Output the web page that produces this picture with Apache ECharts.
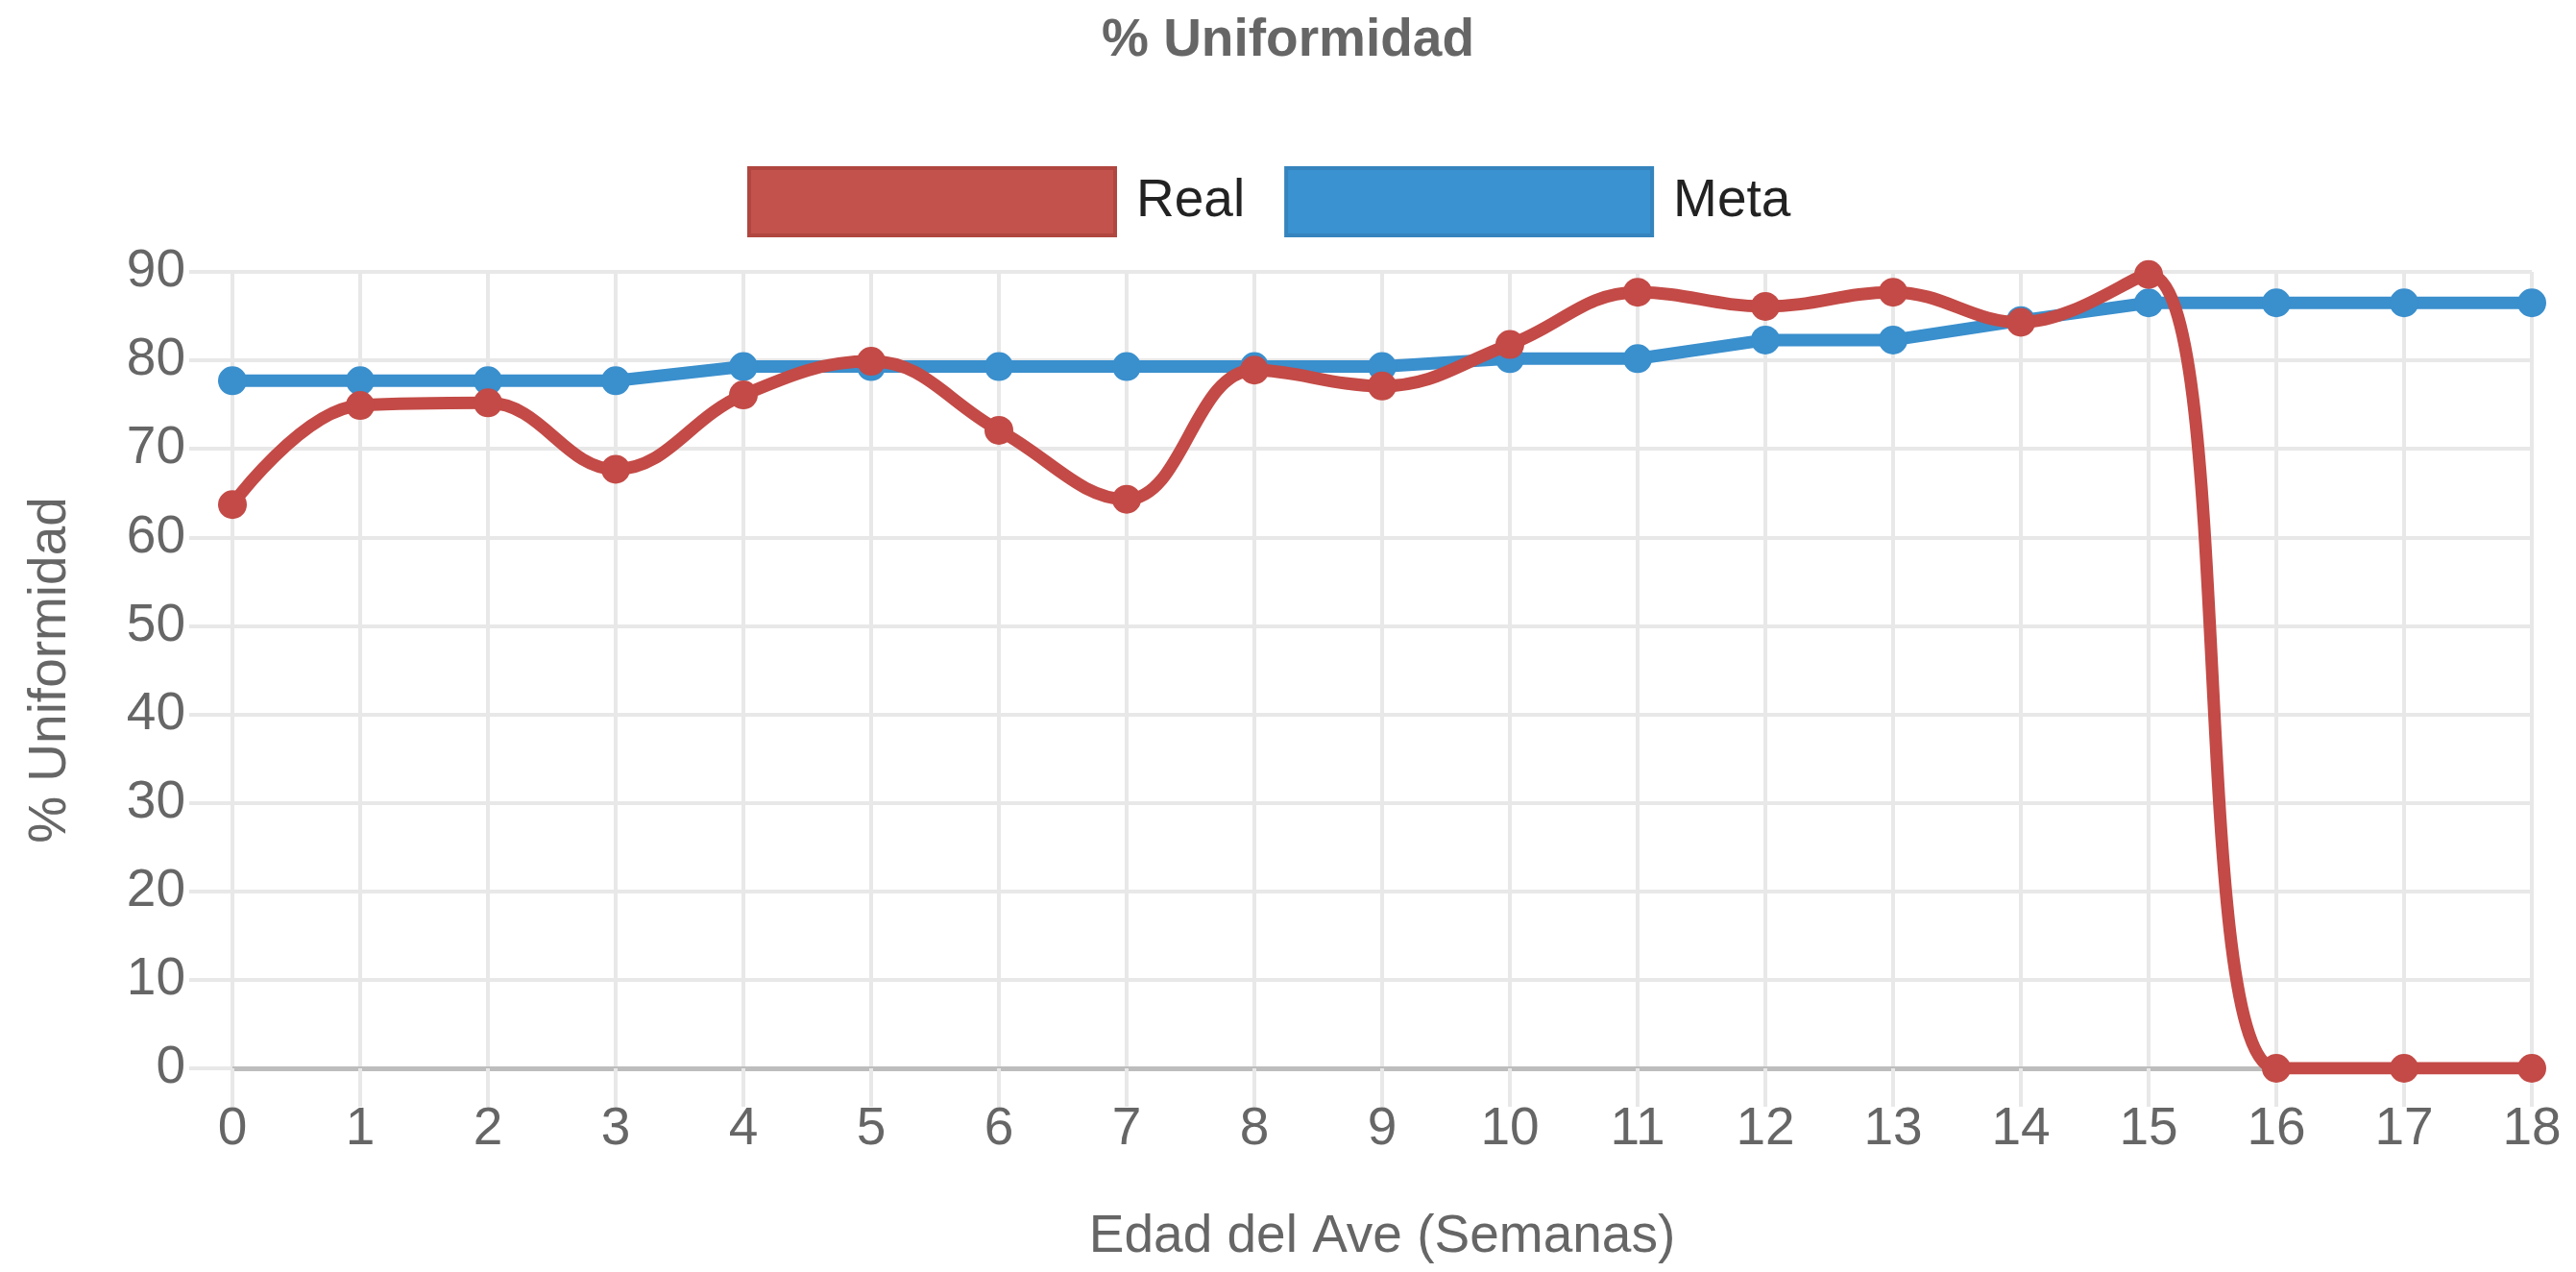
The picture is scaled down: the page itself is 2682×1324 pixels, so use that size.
<!DOCTYPE html>
<html>
<head>
<meta charset="utf-8">
<title>% Uniformidad</title>
<script src="https://cdn.jsdelivr.net/npm/echarts@6/dist/echarts.min.js"></script>
<style>
  html, body { margin: 0; padding: 0; background: #fff; }
  #chart { width: 2682px; height: 1324px; }
</style>
</head>
<body>
<div id="chart"></div>
<script>
// semanas 0..18
const weeks = ['0','1','2','3','4','5','6','7','8','9','10','11','12','13','14','15','16','17','18'];
const realValues = [63.7, 74.9, 75.2, 67.7, 76.1, 79.9, 72.1, 64.3, 78.9, 77.1, 81.8, 87.7, 86.1, 87.7, 84.3, 89.7, 0, 0, 0];
const metaValues = [77.7, 77.7, 77.7, 77.7, 79.3, 79.3, 79.3, 79.3, 79.3, 79.3, 80.2, 80.2, 82.3, 82.3, 84.5, 86.5, 86.5, 86.5, 86.5];
const yTicks = [0, 90, 10]; // min, max, step

const FONT = '"Liberation Sans", Arial, Helvetica, sans-serif';
const RED = '#c34a46';
const BLUE = '#3a8fcd';
const GRID_COLOR = '#e8e8e8';

const chart = echarts.init(document.getElementById('chart'));

const option = {
  animation: false,
  backgroundColor: '#fff',
  title: {
    text: '% Uniformidad',
    left: 'center',
    top: 10,
    textStyle: { fontFamily: FONT, fontSize: 55, fontWeight: 'bold', color: '#666' }
  },
  legend: {
    left: 773,
    top: 168,
    itemWidth: 381,
    itemHeight: 70,
    itemGap: 41,
    data: [
      { name: 'Real', icon: 'rect', itemStyle: { color: '#c4524c', borderColor: '#b0463f', borderWidth: 4 } },
      { name: 'Meta', icon: 'rect', itemStyle: { color: '#3a92d0', borderColor: '#3584bd', borderWidth: 4 } }
    ],
    textStyle: { fontFamily: FONT, fontSize: 55, color: '#222', padding: [0, 0, 0, 17] }
  },
  grid: { left: 242, right: 46, top: 283, bottom: 212, containLabel: false },
  xAxis: {
    type: 'category',
    data: weeks,
    boundaryGap: false,
    name: 'Edad del Ave (Semanas)',
    nameLocation: 'middle',
    nameGap: 148,
    nameTextStyle: { fontFamily: FONT, fontSize: 55, color: '#666', verticalAlign: 'top' },
    axisLine: { show: true, lineStyle: { color: '#bdbdbd', width: 5 } },
    axisTick: { show: true, alignWithLabel: true, length: 40, lineStyle: { color: GRID_COLOR, width: 4 } },
    axisLabel: { margin: 36, fontFamily: FONT, fontSize: 55, color: '#666' },
    splitLine: { show: true, lineStyle: { color: GRID_COLOR, width: 4 } }
  },
  yAxis: {
    type: 'value',
    min: yTicks[0],
    max: yTicks[1],
    interval: yTicks[2],
    name: '% Uniformidad',
    nameLocation: 'middle',
    nameGap: 162,
    nameTextStyle: { fontFamily: FONT, fontSize: 55, color: '#666' },
    axisLine: { show: false },
    axisTick: { show: true, length: 45, lineStyle: { color: GRID_COLOR, width: 4 } },
    axisLabel: { margin: 49, fontFamily: FONT, fontSize: 55, color: '#666' },
    splitLine: { show: true, lineStyle: { color: GRID_COLOR, width: 4 } }
  },
  series: [
    {
      name: 'Meta',
      type: 'line',
      data: metaValues,
      z: 2,
      smooth: false,
      symbol: 'circle',
      symbolSize: 30,
      lineStyle: { color: BLUE, width: 13 },
      itemStyle: { color: BLUE }
    },
    {
      name: 'Real',
      type: 'line',
      data: realValues,
      z: 3,
      smooth: 0.4,
      symbol: 'circle',
      symbolSize: 30,
      lineStyle: { color: RED, width: 13 },
      itemStyle: { color: RED }
    }
  ]
};

chart.setOption(option);
</script>
</body>
</html>
